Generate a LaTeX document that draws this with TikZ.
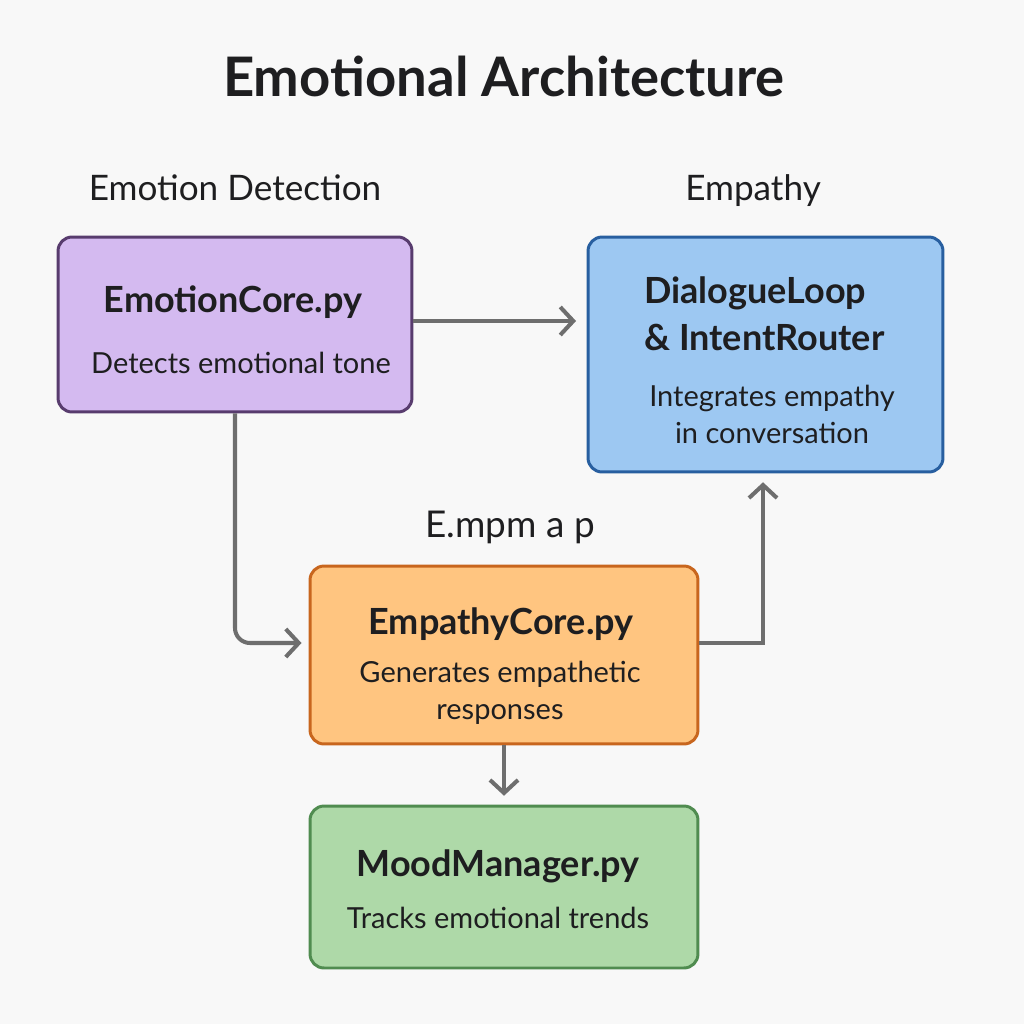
\documentclass[tikz,border=0pt]{standalone}
\usepackage{fontspec}
\setmainfont{Lato}
\usetikzlibrary{arrows.meta}

\definecolor{bgcol}{RGB}{248,248,248}
\definecolor{inkcol}{RGB}{30,30,32}
\definecolor{linecol}{RGB}{110,110,110}
\definecolor{purplefill}{RGB}{212,186,240}
\definecolor{purpleline}{RGB}{88,60,110}
\definecolor{bluefill}{RGB}{157,200,242}
\definecolor{blueline}{RGB}{40,95,160}
\definecolor{orangefill}{RGB}{255,197,128}
\definecolor{orangeline}{RGB}{200,102,30}
\definecolor{greenfill}{RGB}{174,217,168}
\definecolor{greenline}{RGB}{80,140,80}

\tikzset{
  box/.style={draw, line width=1.7pt, rounded corners=0.28cm, inner sep=0pt},
  boxtitle/.style={anchor=base, inner sep=0pt, text=inkcol, font=\fontsize{20.5}{25}\selectfont\bfseries},
  boxtext/.style={anchor=base, inner sep=0pt, text=inkcol, font=\fontsize{16.5}{21}\selectfont},
  heading/.style={anchor=base, inner sep=0pt, text=inkcol, font=\fontsize{20}{24}\selectfont},
  conn/.style={draw=linecol, line width=2.3pt, -{Straight Barb[length=0.26cm,width=0.56cm]}},
}

\begin{document}
\begin{tikzpicture}[x=0.02cm, y=-0.02cm]
        \fill[bgcol] (0,0) rectangle (1024,1024);
        \useasboundingbox (0,0) rectangle (1024,1024);

        % Title
        \node[anchor=base, inner sep=0pt, text=inkcol, font=\fontsize{31}{37}\selectfont\bfseries] (title) at (504,96) {Emotional Architecture};
        \node[heading] (detect) at (235,200) {Emotion Detection};
        \node[heading] (empathy) at (753,200) {Empathy};
        \node[heading, font=\fontsize{21}{25}\selectfont] (garbled) at (510,537) {E.mpm a p};

        % Boxes
        \node[box, fill=purplefill, draw=purpleline, minimum width=7.08cm, minimum height=3.5cm] (emocore) at (235,324.5) {};
        \node[box, fill=bluefill, draw=blueline, minimum width=7.1cm, minimum height=4.7cm] (dialog) at (765.5,354.5) {};
        \node[box, fill=orangefill, draw=orangeline, minimum width=7.76cm, minimum height=3.56cm] (empcore) at (504,655) {};
        \node[box, fill=greenfill, draw=greenline, minimum width=7.76cm, minimum height=3.24cm] (mood) at (504,887) {};

        % Box texts
        \node[boxtitle] (emocore-t) at (233,312) {EmotionCore.py};
        \node[boxtext] (emocore-d) at (241,373) {Detects emotional tone};
        \node[boxtitle, anchor=base west] (dialog-t1) at (644,303) {DialogueLoop};
        \node[boxtitle, anchor=base west] (dialog-t2) at (644,350) {\& IntentRouter};
        \node[boxtext] (dialog-d1) at (772,406) {Integrates empathy};
        \node[boxtext] (dialog-d2) at (772,443) {in conversation};
        \node[boxtitle] (empcore-t) at (501,634) {EmpathyCore.py};
        \node[boxtext] (empcore-d1) at (500,682) {Generates empathetic};
        \node[boxtext] (empcore-d2) at (500,719) {responses};
        \node[boxtitle] (mood-t) at (498,876) {MoodManager.py};
        \node[boxtext] (mood-d) at (498,928) {Tracks emotional trends};

        % Lines
        \draw[conn, shorten >=6pt] ([yshift=0.07cm]emocore.east) -- ([yshift=0.07cm]emocore.east -| dialog.west);
        \draw[conn, rounded corners=0.3cm, shorten >=4pt] (emocore.south) |- ([yshift=0.24cm]empcore.west);
        \draw[conn, shorten >=5pt] ([yshift=0.24cm]empcore.east) -| ([xshift=-0.05cm]dialog.south);
        \draw[conn, shorten >=5pt] (empcore.south) -- (mood.north);
    \end{tikzpicture}
\end{document}
